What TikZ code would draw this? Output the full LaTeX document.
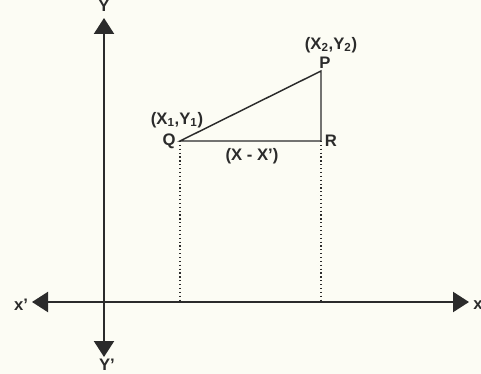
\documentclass[tikz,border=0pt]{standalone}
\usepackage{fontspec}
\setmainfont{Liberation Sans}
\usetikzlibrary{arrows.meta}
\definecolor{paper}{HTML}{FCFCF4}
\definecolor{ink}{HTML}{2B2B2B}
\begin{document}
\begin{tikzpicture}[x=0.75pt,y=-0.75pt,
  axis/.style={ink,line width=1.6pt,{Triangle[length=12pt,width=15pt]}-{Triangle[length=12pt,width=15pt]}},
  side/.style={ink,line width=1.1pt},
  drop/.style={ink,dotted,line width=0.9pt},
  lbl/.style={font=\fontsize{12.5}{14}\selectfont\bfseries,text=ink,inner sep=0pt}]
\fill[paper] (0,0) rectangle (481,374);
\useasboundingbox (0,0) rectangle (481,374);
% axes
\coordinate (O) at (104,302);
\coordinate (ytip) at (104,18);
\coordinate (ybtip) at (104,357);
\coordinate (xltip) at (32,302);
\coordinate (xrtip) at (469,302);
\draw[axis] (ybtip) -- (ytip);
\draw[axis] (xltip) -- (xrtip);
\node[lbl] (ytop) at (104,6) {Y};
\node[lbl] (ybot) at (107,365) {Y'};
\node[lbl] (xleft) at (21,305) {x'};
\node[lbl,anchor=west] (xright) at (473,305) {x};
% triangle
\coordinate (Q) at (180,141);
\coordinate (R) at (321,141);
\coordinate (P) at (321,71);
\draw[side] (Q) -- (R) -- (P) -- cycle;
\draw[drop] (Q) -- (Q |- O);
\draw[drop] (R) -- (R |- O);
\node[lbl] (qname) at (169,141) {Q};
\node[lbl] (qcoord) at (177,120) {(X\textsubscript{1},Y\textsubscript{1})};
\node[lbl] (pname) at (325,63) {P};
\node[lbl] (pcoord) at (331,45) {(X\textsubscript{2},Y\textsubscript{2})};
\node[lbl] (rname) at (331,141) {R};
\node[lbl] (base) at (252,156) {(X - X')};
\end{tikzpicture}
\end{document}
